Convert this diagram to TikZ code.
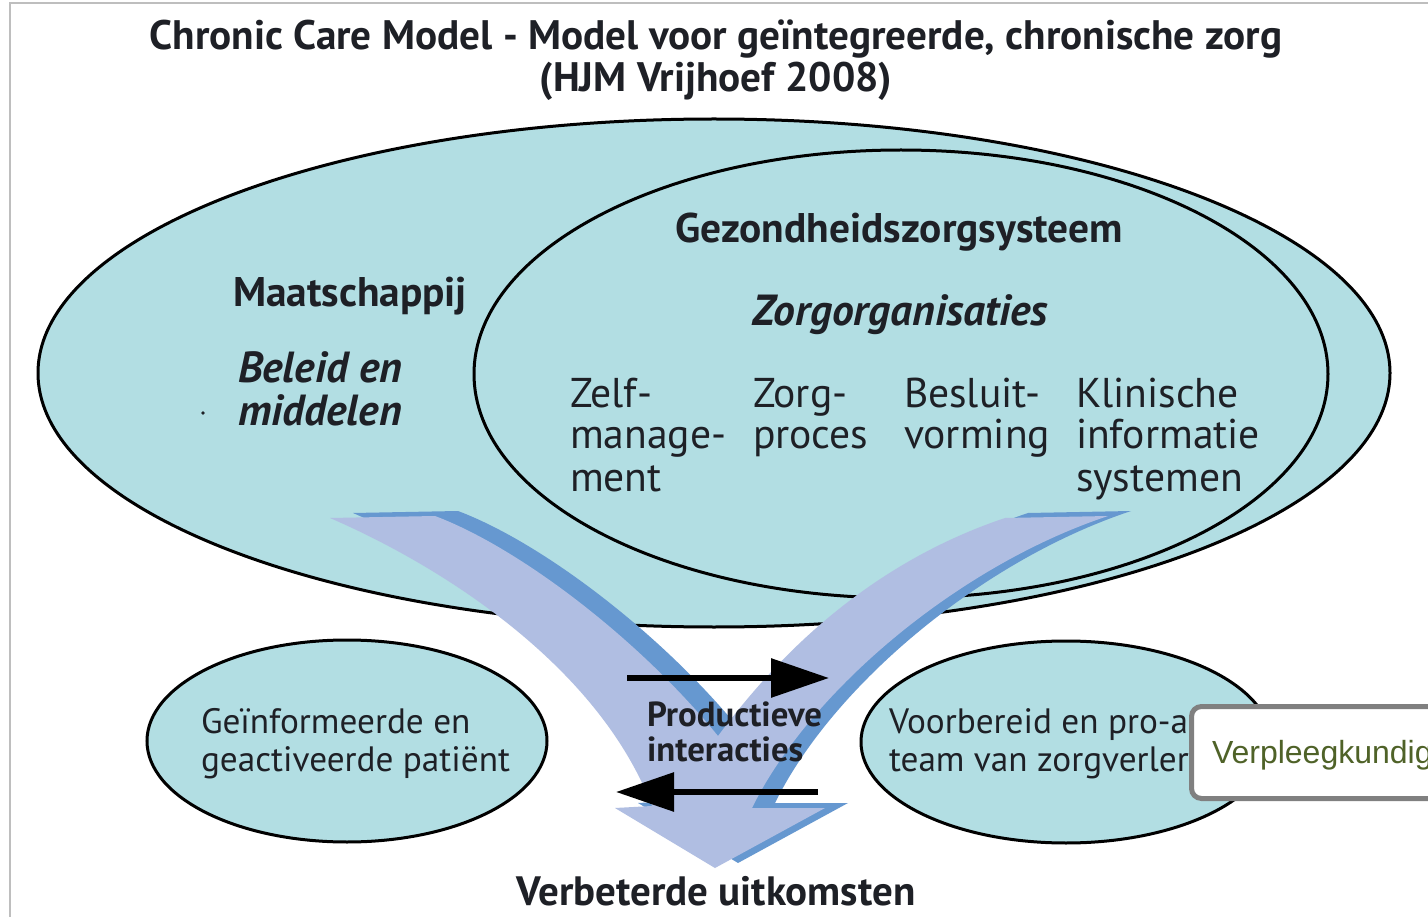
\documentclass[tikz,border=0pt]{standalone}
\usepackage{fontspec}
\setmainfont{PT Sans}
\newfontfamily\callfont{Liberation Sans}
\usetikzlibrary{arrows.meta,shapes.geometric}
\definecolor{ellfill}{RGB}{178,222,227}
\definecolor{lav}{RGB}{176,190,226}
\definecolor{shadowblue}{RGB}{102,152,208}
\definecolor{txt}{RGB}{30,32,38}
\definecolor{callgreen}{RGB}{79,98,40}
\definecolor{framegray}{RGB}{190,190,190}
\definecolor{boxgray}{RGB}{128,128,128}
\newlength\mylen
\newcommand\calcsize[4]{\settowidth\mylen{\normalfont#2\fontsize{20}{24}\selectfont #3}%
  \pgfmathsetmacro#1{(#4/\mylen)*20}\global\let#1#1}
\AtBeginDocument{%
\calcsize\sTitle{\bfseries}{Chronic Care Model - Model voor geïntegreerde, chronische zorg}{1133}%
\calcsize\sHead{\bfseries}{Gezondheidszorgsysteem}{448}%
\calcsize\sHeadIt{\bfseries\itshape}{Zorgorganisaties}{296}%
\calcsize\sCol{}{informatie}{184}%
\calcsize\sSmall{}{geactiveerde patiënt}{309}%
\calcsize\sProd{\bfseries}{Productieve}{175}%
\calcsize\sOut{\bfseries}{Verbeterde uitkomsten}{399}%
}
\begin{document}
\begin{tikzpicture}[x=1pt,y=-1pt,
  ell/.style={ellipse, draw=black, line width=3pt, fill=ellfill, inner sep=0pt},
  lbl/.style={inner sep=0pt, outer sep=0pt, text=txt, anchor=base west},
  ttl/.style={lbl, anchor=base, font=\fontsize{\sTitle}{\sTitle}\selectfont\bfseries},
  hd/.style={lbl, font=\fontsize{\sHead}{\sHead}\selectfont\bfseries},
  hdit/.style={lbl, font=\fontsize{\sHeadIt}{\sHeadIt}\selectfont\bfseries\itshape},
  col/.style={lbl, font=\fontsize{\sCol}{\sCol}\selectfont},
  sml/.style={lbl, font=\fontsize{\sSmall}{\sSmall}\selectfont},
  prod/.style={lbl, font=\fontsize{\sProd}{\sProd}\selectfont\bfseries},
  outc/.style={lbl, anchor=base, font=\fontsize{\sOut}{\sOut}\selectfont\bfseries},
  blk/.style={line width=6pt, -{Triangle[length=58pt,width=38pt]}}
]
\useasboundingbox (0,0) rectangle (1428,917);
\clip (0,0) rectangle (1428,917);
\fill[white] (0,0) rectangle (1428,917);
\draw[framegray, line width=2pt] (10,3) rectangle (1460,950);

% big ellipses
\node[ell, minimum width=1352pt, minimum height=508pt] (maat) at (714,373) {};
\node[ell, minimum width=854pt, minimum height=448pt] (gzs) at (901,374) {};

% converging arrow: shadow then face
\fill[shadowblue, shift={(23,-5)}]
  (330,518) -- (435,516) .. controls (520,548) and (640,640) .. (718,736)
  .. controls (760,680) and (850,570) .. (1005,518) -- (1108,516)
  .. controls (960,565) and (810,690) .. (752,808) -- (825,808) -- (715,868)
  -- (615,808) -- (652,806) .. controls (600,670) and (450,570) .. (330,518) -- cycle;
\fill[lav]
  (330,518) -- (435,516) .. controls (520,548) and (640,640) .. (718,736)
  .. controls (760,680) and (850,570) .. (1005,518) -- (1108,516)
  .. controls (960,565) and (810,690) .. (752,808) -- (825,808) -- (715,868)
  -- (615,808) -- (652,806) .. controls (600,670) and (450,570) .. (330,518) -- cycle;

% small ellipses
\node[ell, minimum width=400pt, minimum height=202pt] (pat) at (347,741) {};
\node[ell, minimum width=410pt, minimum height=202pt] (team) at (1066,742) {};

% black arrows
\coordinate (r1) at (627,678);
\coordinate (r2) at (829,678);
\coordinate (l1) at (818,792);
\coordinate (l2) at (616,792);
\draw[blk] (r1) -- (r2);
\draw[blk] (l1) -- (l2);

% texts
\node[ttl] (t1) at (716,50) {Chronic Care Model - Model voor geïntegreerde, chronische zorg};
\node[ttl] (t2) at (716,92) {(HJM Vrijhoef 2008)};
\node[hd] (gz) at (675,243) {Gezondheidszorgsysteem};
\node[hd] (ms) at (233,307) {Maatschappij};
\node[hdit] (zo) at (752,326) {Zorgorganisaties};
\node[hdit] (be1) at (238,383) {Beleid en};
\node[hdit] (be2) at (238,425) {middelen};
\fill[txt] (203,413) circle[radius=1.8];
\node[col] (c1a) at (570,407) {Zelf-};
\node[col] (c1b) at (570,449) {manage-};
\node[col] (c1c) at (570,491) {ment};
\node[col] (c2a) at (753,407) {Zorg-};
\node[col] (c2b) at (753,449) {proces};
\node[col] (c3a) at (904,407) {Besluit-};
\node[col] (c3b) at (904,449) {vorming};
\node[col] (c4a) at (1076,407) {Klinische};
\node[col] (c4b) at (1076,449) {informatie};
\node[col] (c4c) at (1076,491) {systemen};
\node[sml] (gi1) at (201,733) {Geïnformeerde en};
\node[sml] (gi2) at (201,771) {geactiveerde patiënt};
\node[sml] (vb1) at (889,733) {Voorbereid en pro-a};
\node[sml] (vb2) at (889,771) {team van zorgverler};
\node[prod] (pr1) at (647,726) {Productieve};
\node[prod] (pr2) at (647,761) {interacties};
\node[outc] (out) at (716,905) {Verbeterde uitkomsten};

% callout
\node[draw=boxgray, line width=5pt, rounded corners=10pt, fill=white, anchor=north west,
      minimum width=300pt, minimum height=92pt, inner sep=0pt] (call) at (1189,704) {};
\node[lbl, text=callgreen, font=\callfont\fontsize{32}{32}\selectfont] (ct) at (1212,763) {Verpleegkundig};
\end{tikzpicture}
\end{document}
